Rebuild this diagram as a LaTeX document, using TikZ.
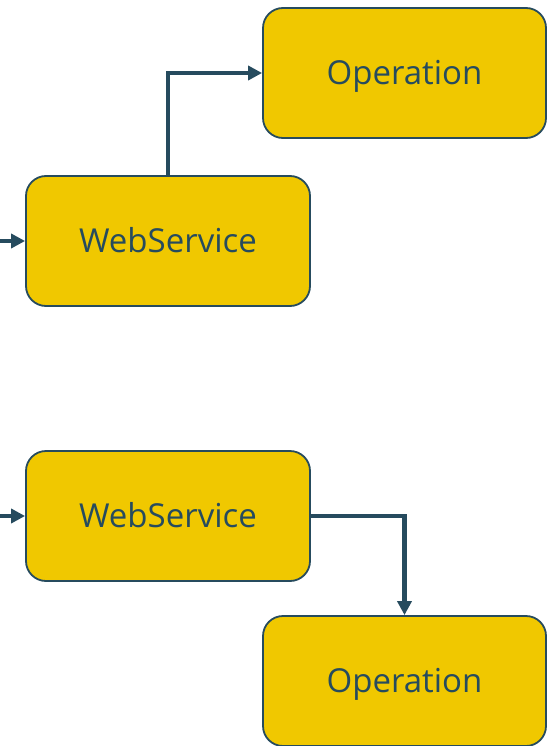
\documentclass[tikz,border=0pt]{standalone}
\usepackage{fontspec}
\setmainfont{Open Sans}[Ligatures=NoCommon]
\usetikzlibrary{arrows.meta}
\definecolor{boxfill}{RGB}{240,200,0}
\definecolor{ink}{RGB}{38,75,94}
\begin{document}
\begin{tikzpicture}[x=1pt,y=-1pt,
  block/.style={draw=ink, line width=1.8pt, fill=boxfill, rounded corners=20pt,
    text=ink, font=\fontsize{33}{38}\selectfont, inner sep=0pt,
    text height=23.5pt, text depth=0pt},
  flow/.style={draw=ink, line width=4.3pt, -{Triangle[length=14pt,width=14pt]}, rounded corners=0pt}]
  \useasboundingbox (0,0) rectangle (547,746);

  % upper pair: operation above the service
  \node[block, minimum width=283pt, minimum height=130pt] (op1) at (404.5,73) {Operation};
  \node[block, minimum width=284pt, minimum height=130pt] (ws1) at (168,241) {WebService};
  \coordinate (in1) at (0,241);
  \draw[flow] (in1) -- (ws1.west);
  \draw[flow] (ws1.north) -- (ws1.north |- op1.west) -- (op1.west);

  % lower pair: operation below the service
  \node[block, minimum width=284pt, minimum height=130pt] (ws2) at (168,516) {WebService};
  \node[block, minimum width=283pt, minimum height=130pt] (op2) at (404.5,681) {Operation};
  \coordinate (in2) at (0,516);
  \draw[flow] (in2) -- (ws2.west);
  \draw[flow] (ws2.east) -- (op2.north |- ws2.east) -- (op2.north);
\end{tikzpicture}
\end{document}
